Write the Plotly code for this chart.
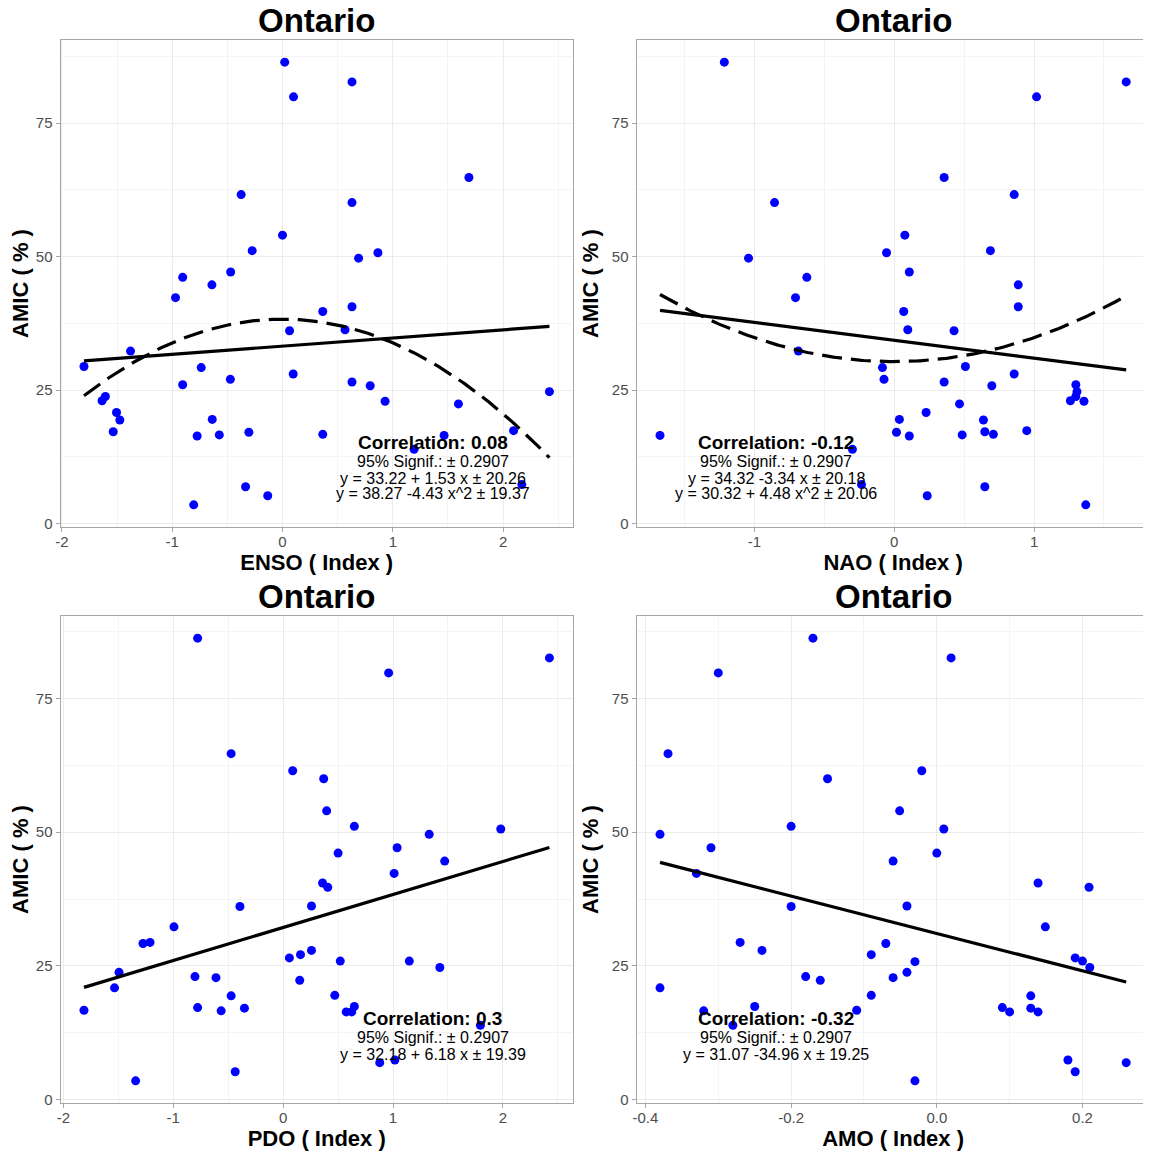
import numpy as np
import plotly.graph_objects as go

panel_title = "Ontario"
y_label = "AMIC ( % )"

# ---- Panel 1: ENSO ----
enso_x = [0.02, 0.63, 0.10, 1.69, -0.375, 0.63, 0.0, -0.275, 0.865, 0.69, -0.47, -0.905, -0.64, -0.97,
          0.365, 0.63, 0.064, 0.567, -1.378, -1.80, -0.737, 0.097, -0.473, -0.905, 0.63, 0.795, 2.42,
          -1.606, -1.636, 0.93, 1.595, -1.505, -1.475, -0.637, -1.535, -0.305, -0.774, -0.573, 0.365,
          1.465, 2.095, 1.193, -0.335, -0.134, -0.805, 2.17]
enso_y = [86.4, 82.7, 79.9, 64.8, 61.6, 60.1, 54.0, 51.1, 50.7, 49.7, 47.1, 46.1, 44.7, 42.3, 39.7,
          40.6, 36.1, 36.3, 32.3, 29.4, 29.2, 28.0, 27.0, 26.0, 26.5, 25.8, 24.7, 23.8, 23.0, 22.9,
          22.4, 20.8, 19.4, 19.5, 17.2, 17.1, 16.4, 16.6, 16.7, 16.5, 17.4, 13.9, 6.9, 5.2, 3.5, 7.3]
enso_lin = [33.22, 1.53]      # intercept, slope
enso_quad = [38.27, -4.43]    # intercept, x^2 coefficient
enso_text = ["Correlation: 0.08", "95% Signif.: \u00b1 0.2907",
             "y = 33.22 + 1.53 x \u00b1 20.26", "y = 38.27 -4.43 x^2 \u00b1 19.37"]

# ---- Panel 2: NAO ----
nao_x = [-1.215, 1.659, 1.018, 0.357, 0.858, -0.856, 0.076, 0.688, -0.055, -1.042, 0.108, -0.625,
         0.887, -0.706, 0.068, 0.887, 0.097, 0.428, -0.685, 0.509, -0.084, 0.858, -0.073, 0.357,
         0.698, 1.299, 1.307, 1.299, 1.26, 1.357, 0.467, 0.228, 0.037, 0.638, 0.948, 0.016, 0.648,
         -1.675, 0.108, 0.486, 0.709, -0.299, -0.234, 0.648, 0.236, 1.37]
nao_y = [86.4, 82.7, 79.9, 64.8, 61.6, 60.1, 54.0, 51.1, 50.7, 49.7, 47.1, 46.1, 44.7, 42.3, 39.7,
         40.6, 36.3, 36.1, 32.3, 29.4, 29.2, 28.0, 27.0, 26.5, 25.8, 26.0, 24.7, 23.8, 23.0, 22.9,
         22.4, 20.8, 19.5, 19.4, 17.4, 17.1, 17.2, 16.5, 16.4, 16.6, 16.7, 13.9, 7.3, 6.9, 5.2, 3.5]
nao_lin = [34.32, -3.34]
nao_quad = [30.32, 4.48]
nao_text = ["Correlation: -0.12", "95% Signif.: \u00b1 0.2907",
            "y = 34.32 -3.34 x \u00b1 20.18", "y = 30.32 + 4.48 x^2 \u00b1 20.06"]

# ---- Panel 3: PDO ----
pdo_x = [-0.778, 2.423, 0.96, -0.473, 0.087, 0.369, 0.396, 0.648, 1.98, 1.329, 1.037, 0.5, 1.47,
         1.01, 0.359, 0.406, -0.393, 0.258, -0.993, -1.275, -1.211, 0.258, 0.158, 0.057, 0.52,
         1.148, 1.426, -1.493, -0.802, -0.611, 0.151, -1.534, -0.473, 0.47, -0.778, -0.352, 0.648,
         -1.812, -0.564, 0.574, 0.624, 1.795, 0.879, 1.017, -0.436, -1.342]
pdo_y = [86.3, 82.6, 79.8, 64.7, 61.5, 60.0, 54.0, 51.1, 50.6, 49.6, 47.1, 46.1, 44.6, 42.3, 40.5,
         39.7, 36.1, 36.2, 32.3, 29.2, 29.4, 27.9, 27.1, 26.5, 25.9, 25.9, 24.7, 23.8, 23.0, 22.8,
         22.3, 20.9, 19.4, 19.5, 17.2, 17.1, 17.4, 16.7, 16.6, 16.4, 16.4, 13.9, 6.9, 7.4, 5.2, 3.5]
pdo_lin = [32.18, 6.18]
pdo_text = ["Correlation: 0.3", "95% Signif.: \u00b1 0.2907", "y = 32.18 + 6.18 x \u00b1 19.39"]

# ---- Panel 4: AMO ----
amo_x = [-0.170, 0.0196, -0.300, -0.369, -0.0206, -0.150, -0.051, -0.200, 0.0096, -0.380, -0.310,
         0.0, -0.060, -0.330, 0.139, 0.209, -0.200, -0.041, 0.149, -0.270, -0.070, -0.240, -0.090,
         0.190, -0.030, 0.200, 0.210, -0.041, -0.180, -0.060, -0.160, -0.380, -0.090, 0.129, -0.250,
         0.090, 0.129, -0.320, -0.110, 0.100, 0.139, -0.280, 0.180, 0.260, 0.190, -0.030]
amo_y = [86.3, 82.6, 79.8, 64.7, 61.5, 60.0, 54.0, 51.1, 50.6, 49.6, 47.1, 46.1, 44.6, 42.3, 40.5,
         39.7, 36.1, 36.2, 32.3, 29.4, 29.2, 27.9, 27.1, 26.5, 25.8, 25.9, 24.7, 23.8, 23.0, 22.8,
         22.3, 20.9, 19.5, 19.4, 17.4, 17.2, 17.1, 16.6, 16.7, 16.4, 16.4, 13.9, 7.4, 6.9, 5.2, 3.5]
amo_lin = [31.07, -34.96]
amo_text = ["Correlation: -0.32", "95% Signif.: \u00b1 0.2907", "y = 31.07 -34.96 x \u00b1 19.25"]

# ---- tick labels ----
idx_ticks = [-2, -1, 0, 1, 2]
idx_labels = ["-2", "-1", "0", "1", "2"]
nao_ticks = [-1, 0, 1]
nao_labels = ["-1", "0", "1"]
amo_ticks = [-0.4, -0.2, 0.0, 0.2]
amo_labels = ["-0.4", "-0.2", "0.0", "0.2"]
y_ticks = [0, 25, 50, 75]
y_labels = ["0", "25", "50", "75"]

FONT = "Liberation Sans, Arial, Helvetica, sans-serif"
OFF = 8                      # page body margin of the browser
W, H = 1151 - OFF, 1155 - OFF

panels = [
    dict(x=enso_x, y=enso_y, lin=enso_lin, quad=enso_quad, text=enso_text, xlabel="ENSO ( Index )",
         ticks=idx_ticks, labels=idx_labels, minor=0.5, xdom=(60.7, 572.7), ydom=(40, 527), tx=0.727),
    dict(x=nao_x, y=nao_y, lin=nao_lin, quad=nao_quad, text=nao_text, xlabel="NAO ( Index )",
         ticks=nao_ticks, labels=nao_labels, minor=0.5, xdom=(636.7, 1149.5), ydom=(40, 527), tx=0.272),
    dict(x=pdo_x, y=pdo_y, lin=pdo_lin, quad=None, text=pdo_text, xlabel="PDO ( Index )",
         ticks=idx_ticks, labels=idx_labels, minor=0.5, xdom=(60.7, 572.7), ydom=(616, 1103), tx=0.727),
    dict(x=amo_x, y=amo_y, lin=amo_lin, quad=None, text=amo_text, xlabel="AMO ( Index )",
         ticks=amo_ticks, labels=amo_labels, minor=0.1, xdom=(636.7, 1149.5), ydom=(616, 1103), tx=0.272),
]

text_y = [15.2, 11.7, 8.4, 5.6]

fig = go.Figure()
layout = dict(
    width=W, height=H, margin=dict(l=0, r=0, t=0, b=0),
    paper_bgcolor="white", plot_bgcolor="white", showlegend=False,
    font=dict(family=FONT, color="black"),
    annotations=[],
)

grid_major = "#EBEBEB"
grid_minor = "#F4F4F4"
border = "#A6A6A6"

for i, p in enumerate(panels):
    n = "" if i == 0 else str(i + 1)
    xa, ya = "x" + n, "y" + n
    xs = np.array(p["x"], dtype=float)
    ys = np.array(p["y"], dtype=float)
    xr = [xs.min() - 0.05 * (xs.max() - xs.min()), xs.max() + 0.05 * (xs.max() - xs.min())]
    yr = [ys.min() - 0.05 * (ys.max() - ys.min()), ys.max() + 0.05 * (ys.max() - ys.min())]

    fig.add_trace(go.Scatter(x=p["x"], y=p["y"], mode="markers", xaxis=xa, yaxis=ya,
                             marker=dict(color="#0000FF", size=9, line=dict(width=0)),
                             hoverinfo="x+y"))
    xg = np.linspace(xs.min(), xs.max(), 200)
    fig.add_trace(go.Scatter(x=xg, y=p["lin"][0] + p["lin"][1] * xg, mode="lines", xaxis=xa, yaxis=ya,
                             line=dict(color="black", width=3.2)))
    if p["quad"] is not None:
        fig.add_trace(go.Scatter(x=xg, y=p["quad"][0] + p["quad"][1] * xg ** 2, mode="lines",
                                 xaxis=xa, yaxis=ya,
                                 line=dict(color="black", width=3.2, dash="20px,9px")))

    x0, x1 = p["xdom"][0] - OFF, p["xdom"][1] - OFF
    y0, y1 = p["ydom"][0] - OFF, p["ydom"][1] - OFF
    layout["xaxis" + n] = dict(
        domain=[x0 / W, min(x1 / W, 1.0)], anchor=ya, range=xr,
        tickmode="array", tickvals=p["ticks"], ticktext=p["labels"],
        tickfont=dict(size=15, color="#4D4D4D", family=FONT),
        ticks="outside", ticklen=4, tickwidth=1, tickcolor=border, ticklabelstandoff=-3,
        showline=True, mirror=True, linecolor=border, linewidth=1.3,
        showgrid=True, gridcolor=grid_major, gridwidth=1, zeroline=False,
        minor=dict(tickmode="linear", tick0=0, dtick=p["minor"], showgrid=True,
                   gridcolor=grid_minor, gridwidth=0.8, ticks=""),
        title=dict(text="<b>" + p["xlabel"] + "</b>", font=dict(size=22, family=FONT, color="black"),
                   standoff=1),
        automargin=False,
    )
    layout["yaxis" + n] = dict(
        domain=[1 - y1 / H, 1 - y0 / H], anchor=xa, range=yr,
        tickmode="array", tickvals=y_ticks, ticktext=y_labels,
        tickfont=dict(size=15, color="#4D4D4D", family=FONT),
        ticks="outside", ticklen=4, tickwidth=1, tickcolor=border,
        showline=True, mirror=True, linecolor=border, linewidth=1.3,
        showgrid=True, gridcolor=grid_major, gridwidth=1, zeroline=False,
        minor=dict(tickmode="linear", tick0=0, dtick=12.5, showgrid=True,
                   gridcolor=grid_minor, gridwidth=0.8, ticks=""),
        title=dict(text="<b>" + y_label + "</b>", font=dict(size=22, family=FONT, color="black"),
                   standoff=7),
        automargin=False,
    )

    # panel title
    layout["annotations"].append(dict(
        text="<b>" + panel_title + "</b>", xref="paper", yref="paper",
        x=(x0 + x1) / 2 / W, y=1 - (y0 - 19.5) / H, xanchor="center", yanchor="middle",
        showarrow=False, font=dict(size=33, family=FONT, color="black")))

    # statistics text
    for j, t in enumerate(p["text"]):
        layout["annotations"].append(dict(
            text=("<b>" + t + "</b>") if j == 0 else t,
            xref=xa + " domain", yref=ya, x=p["tx"], y=text_y[j],
            xanchor="center", yanchor="middle", showarrow=False,
            font=dict(size=19 if j == 0 else 16, family=FONT, color="black")))

fig.update_layout(**layout)
fig.write_html("out.html")
